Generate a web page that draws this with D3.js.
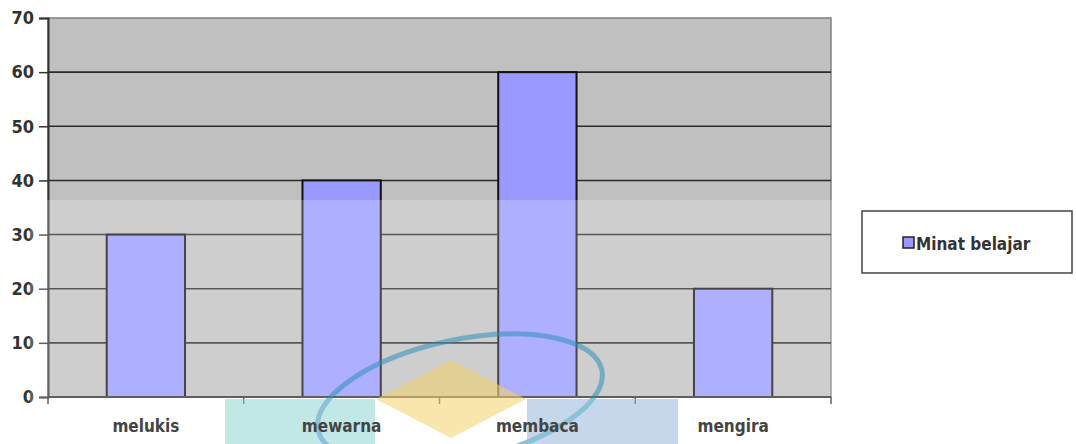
<!DOCTYPE html>
<html>
<head>
<meta charset="utf-8">
<script src="https://cdn.jsdelivr.net/npm/d3@7"></script>
<style>
  body { margin: 0; background: #fff; }
  text { font-family: "DejaVu Sans Condensed", "DejaVu Sans", sans-serif; }
</style>
</head>
<body>
<svg id="chart" width="1076" height="444"></svg>
<script>
const categories = ["melukis", "mewarna", "membaca", "mengira"];
const minatBelajar = [30, 40, 60, 20];
const yTicks = [0, 10, 20, 30, 40, 50, 60, 70];
const seriesName = "Minat belajar";

const svg = d3.select("#chart");
const plot = {left: 48, right: 831, top: 18, bottom: 397};

const x = d3.scaleBand().domain(categories).range([plot.left, plot.right]);
const y = d3.scaleLinear().domain([0, 70]).range([plot.bottom, plot.top]);

// plot area
svg.append("rect")
    .attr("x", plot.left).attr("y", plot.top)
    .attr("width", plot.right - plot.left).attr("height", plot.bottom - plot.top)
    .attr("fill", "#c0c0c0").attr("stroke", "#808080").attr("stroke-width", 1.5);

// gridlines
svg.append("g").selectAll("line")
  .data(yTicks.filter(d => d > 0 && d < 70))
  .join("line")
    .attr("x1", plot.left).attr("x2", plot.right)
    .attr("y1", d => y(d)).attr("y2", d => y(d))
    .attr("stroke", "#2a2a2a").attr("stroke-width", 1.6);

// bars
const bw = x.bandwidth() * 0.4;
svg.append("g").selectAll("rect")
  .data(categories)
  .join("rect")
    .attr("x", d => x(d) + (x.bandwidth() - bw) / 2)
    .attr("y", (d, i) => y(minatBelajar[i]))
    .attr("width", bw)
    .attr("height", (d, i) => y(0) - y(minatBelajar[i]))
    .attr("fill", "#9999ff").attr("stroke", "#111").attr("stroke-width", 2);

// y axis
const yAxis = svg.append("g")
    .attr("transform", `translate(${plot.left},0)`)
    .call(d3.axisLeft(y).tickValues(yTicks).tickSize(9).tickPadding(5));
yAxis.select(".domain").attr("stroke", "#333").attr("stroke-width", 2);
yAxis.selectAll(".tick line").attr("stroke", "#333").attr("stroke-width", 1.5);
yAxis.selectAll(".tick text")
    .attr("fill", "#333").attr("font-size", 18).attr("font-weight", "bold")
    .style("font-family", "'DejaVu Sans Condensed', sans-serif");

// x axis line and ticks
const xAxis = svg.append("g")
    .attr("transform", `translate(0,${plot.bottom})`)
    .call(d3.axisBottom(x).tickSize(0).tickFormat(""));
xAxis.select(".domain").attr("stroke", "#333").attr("stroke-width", 2).attr("d", `M${plot.left},0H${plot.right}`);
svg.append("g").selectAll("line")
  .data(categories.concat(["end"]))
  .join("line")
    .attr("x1", (d, i) => plot.left + i * x.step()).attr("x2", (d, i) => plot.left + i * x.step())
    .attr("y1", plot.bottom).attr("y2", plot.bottom + 7)
    .attr("stroke", "#333").attr("stroke-width", 1.5);

// watermark lightening
svg.append("rect")
    .attr("x", 30).attr("y", 200).attr("width", 805).attr("height", 244)
    .attr("fill", "#fff").attr("opacity", 0.22);
const wm = svg.append("g").attr("opacity", 0.55);
wm.append("rect").attr("x", 225).attr("y", 399).attr("width", 150).attr("height", 45).attr("fill", "#8fd6d2");
wm.append("rect").attr("x", 527).attr("y", 399).attr("width", 151).attr("height", 45).attr("fill", "#9bb8dc");
wm.append("path").attr("d", "M451,360L526,399L451,438L376,399Z").attr("fill", "#f5d36a");
wm.append("ellipse")
    .attr("cx", 460).attr("cy", 400).attr("rx", 145).attr("ry", 60)
    .attr("transform", "rotate(-12,460,400)")
    .attr("fill", "none").attr("stroke", "#2f8fb8").attr("stroke-width", 5);

// category labels
svg.append("g").selectAll("text")
  .data(categories)
  .join("text")
    .attr("x", d => x(d) + x.bandwidth() / 2)
    .attr("y", 432)
    .attr("text-anchor", "middle")
    .attr("fill", "#444").attr("font-size", 17).attr("font-weight", "bold")
    .text(d => d);

// legend
const legend = svg.append("g");
legend.append("rect")
    .attr("x", 862).attr("y", 211).attr("width", 210).attr("height", 62)
    .attr("fill", "#fff").attr("stroke", "#444").attr("stroke-width", 1.5);
legend.append("rect")
    .attr("x", 903).attr("y", 237).attr("width", 11).attr("height", 11)
    .attr("fill", "#9999ff").attr("stroke", "#222").attr("stroke-width", 1.5);
legend.append("text")
    .attr("x", 916).attr("y", 250)
    .attr("fill", "#333").attr("font-size", 17).attr("font-weight", "bold")
    .text(seriesName);
</script>
</body>
</html>
